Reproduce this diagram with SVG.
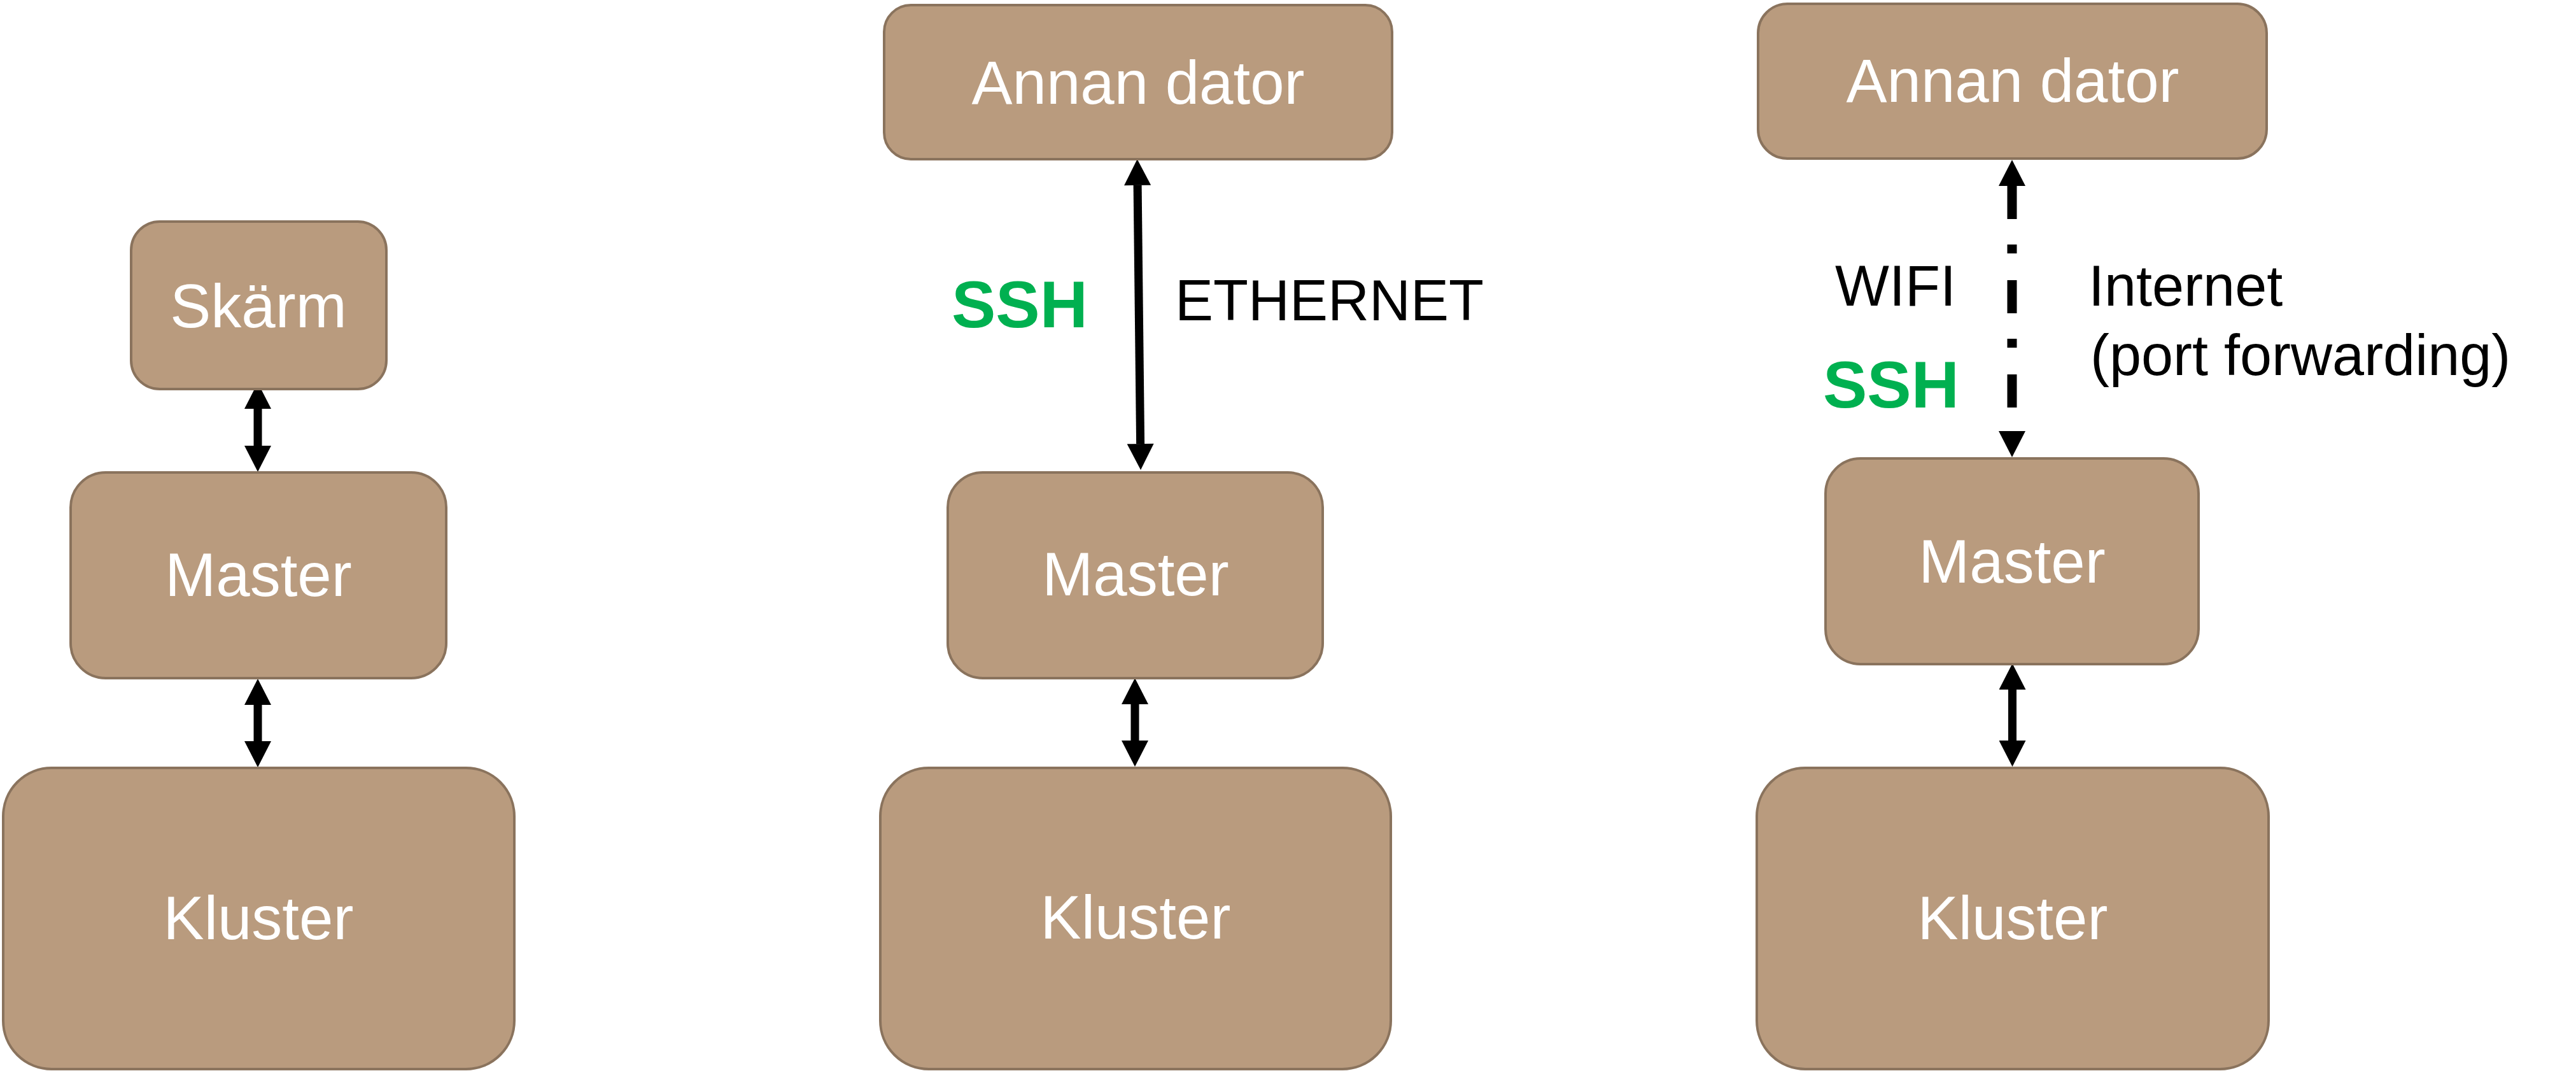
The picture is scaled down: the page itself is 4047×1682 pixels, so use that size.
<svg xmlns="http://www.w3.org/2000/svg" width="4047" height="1682" viewBox="0 0 4047 1682">
<style>
.box{fill:#B99B7E;stroke:#8A735D;stroke-width:4}
.lbl{font-family:"Liberation Sans",Arial,sans-serif;font-size:96px;fill:#FFFFFF;text-anchor:middle}
.note{font-family:"Liberation Sans",Arial,sans-serif;font-size:90px;fill:#000000}
.ssh{font-family:"Liberation Sans",Arial,sans-serif;font-size:104px;font-weight:bold;fill:#00B050}
.conn{stroke:#000000;stroke-width:13;fill:none;marker-start:url(#head);marker-end:url(#head)}
.dash{stroke-width:15;stroke-dasharray:52 40 14 42}
</style>
<defs>
<marker id="head" markerUnits="userSpaceOnUse" markerWidth="42" markerHeight="42" refX="0" refY="21" orient="auto-start-reverse" viewBox="0 0 41 42">
<path d="M0,0 L41,21 L0,42 Z" fill="#000000"/>
</marker>
</defs>
<rect width="4047" height="1682" fill="#FFFFFF"/>
<g id="connectors">
<line class="conn" x1="405" y1="642" x2="405" y2="700"/>
<line class="conn" x1="405" y1="1107" x2="405" y2="1164"/>
<line class="conn" x1="1787.1" y1="291" x2="1791.6" y2="697"/>
<line class="conn" x1="1783" y1="1106" x2="1783" y2="1163"/>
<line class="conn dash" x1="3161" y1="292" x2="3161" y2="677"/>
<line class="conn" x1="3161.5" y1="1083" x2="3161.5" y2="1163"/>
</g>
<g id="skarm">
<rect class="box" x="206" y="348" width="401" height="263" rx="45" ry="45"/>
<text class="lbl" x="406" y="514">Skärm</text>
</g>
<g id="master-1">
<rect class="box" x="111" y="742" width="590" height="323" rx="55" ry="55"/>
<text class="lbl" x="406" y="936">Master</text>
</g>
<g id="kluster-1">
<rect class="box" x="5" y="1206" width="803" height="473" rx="76" ry="76"/>
<text class="lbl" x="406" y="1475">Kluster</text>
</g>
<g id="annan-2">
<rect class="box" x="1389" y="8" width="798" height="242" rx="42" ry="42"/>
<text class="lbl" x="1788" y="163">Annan dator</text>
</g>
<g id="master-2">
<rect class="box" x="1489" y="742" width="589" height="323" rx="55" ry="55"/>
<text class="lbl" x="1784" y="935">Master</text>
</g>
<g id="kluster-2">
<rect class="box" x="1383" y="1206" width="802" height="473" rx="76" ry="76"/>
<text class="lbl" x="1784" y="1474">Kluster</text>
</g>
<g id="annan-3">
<rect class="box" x="2762" y="6" width="799" height="243" rx="46" ry="46"/>
<text class="lbl" x="3162" y="160">Annan dator</text>
</g>
<g id="master-3">
<rect class="box" x="2868" y="720" width="586" height="323" rx="55" ry="55"/>
<text class="lbl" x="3161" y="915">Master</text>
</g>
<g id="kluster-3">
<rect class="box" x="2760" y="1206" width="804" height="473" rx="76" ry="76"/>
<text class="lbl" x="3162" y="1475">Kluster</text>
</g>
<g id="labels">
<text class="ssh" x="1495" y="514">SSH</text>
<text class="note" x="1846" y="503">ETHERNET</text>
<text class="note" x="2883" y="480">WIFI</text>
<text class="ssh" x="2864" y="640">SSH</text>
<text class="note" x="3281" y="480">Internet</text>
<text class="note" x="3284" y="589">(port forwarding)</text>
</g>
</svg>
